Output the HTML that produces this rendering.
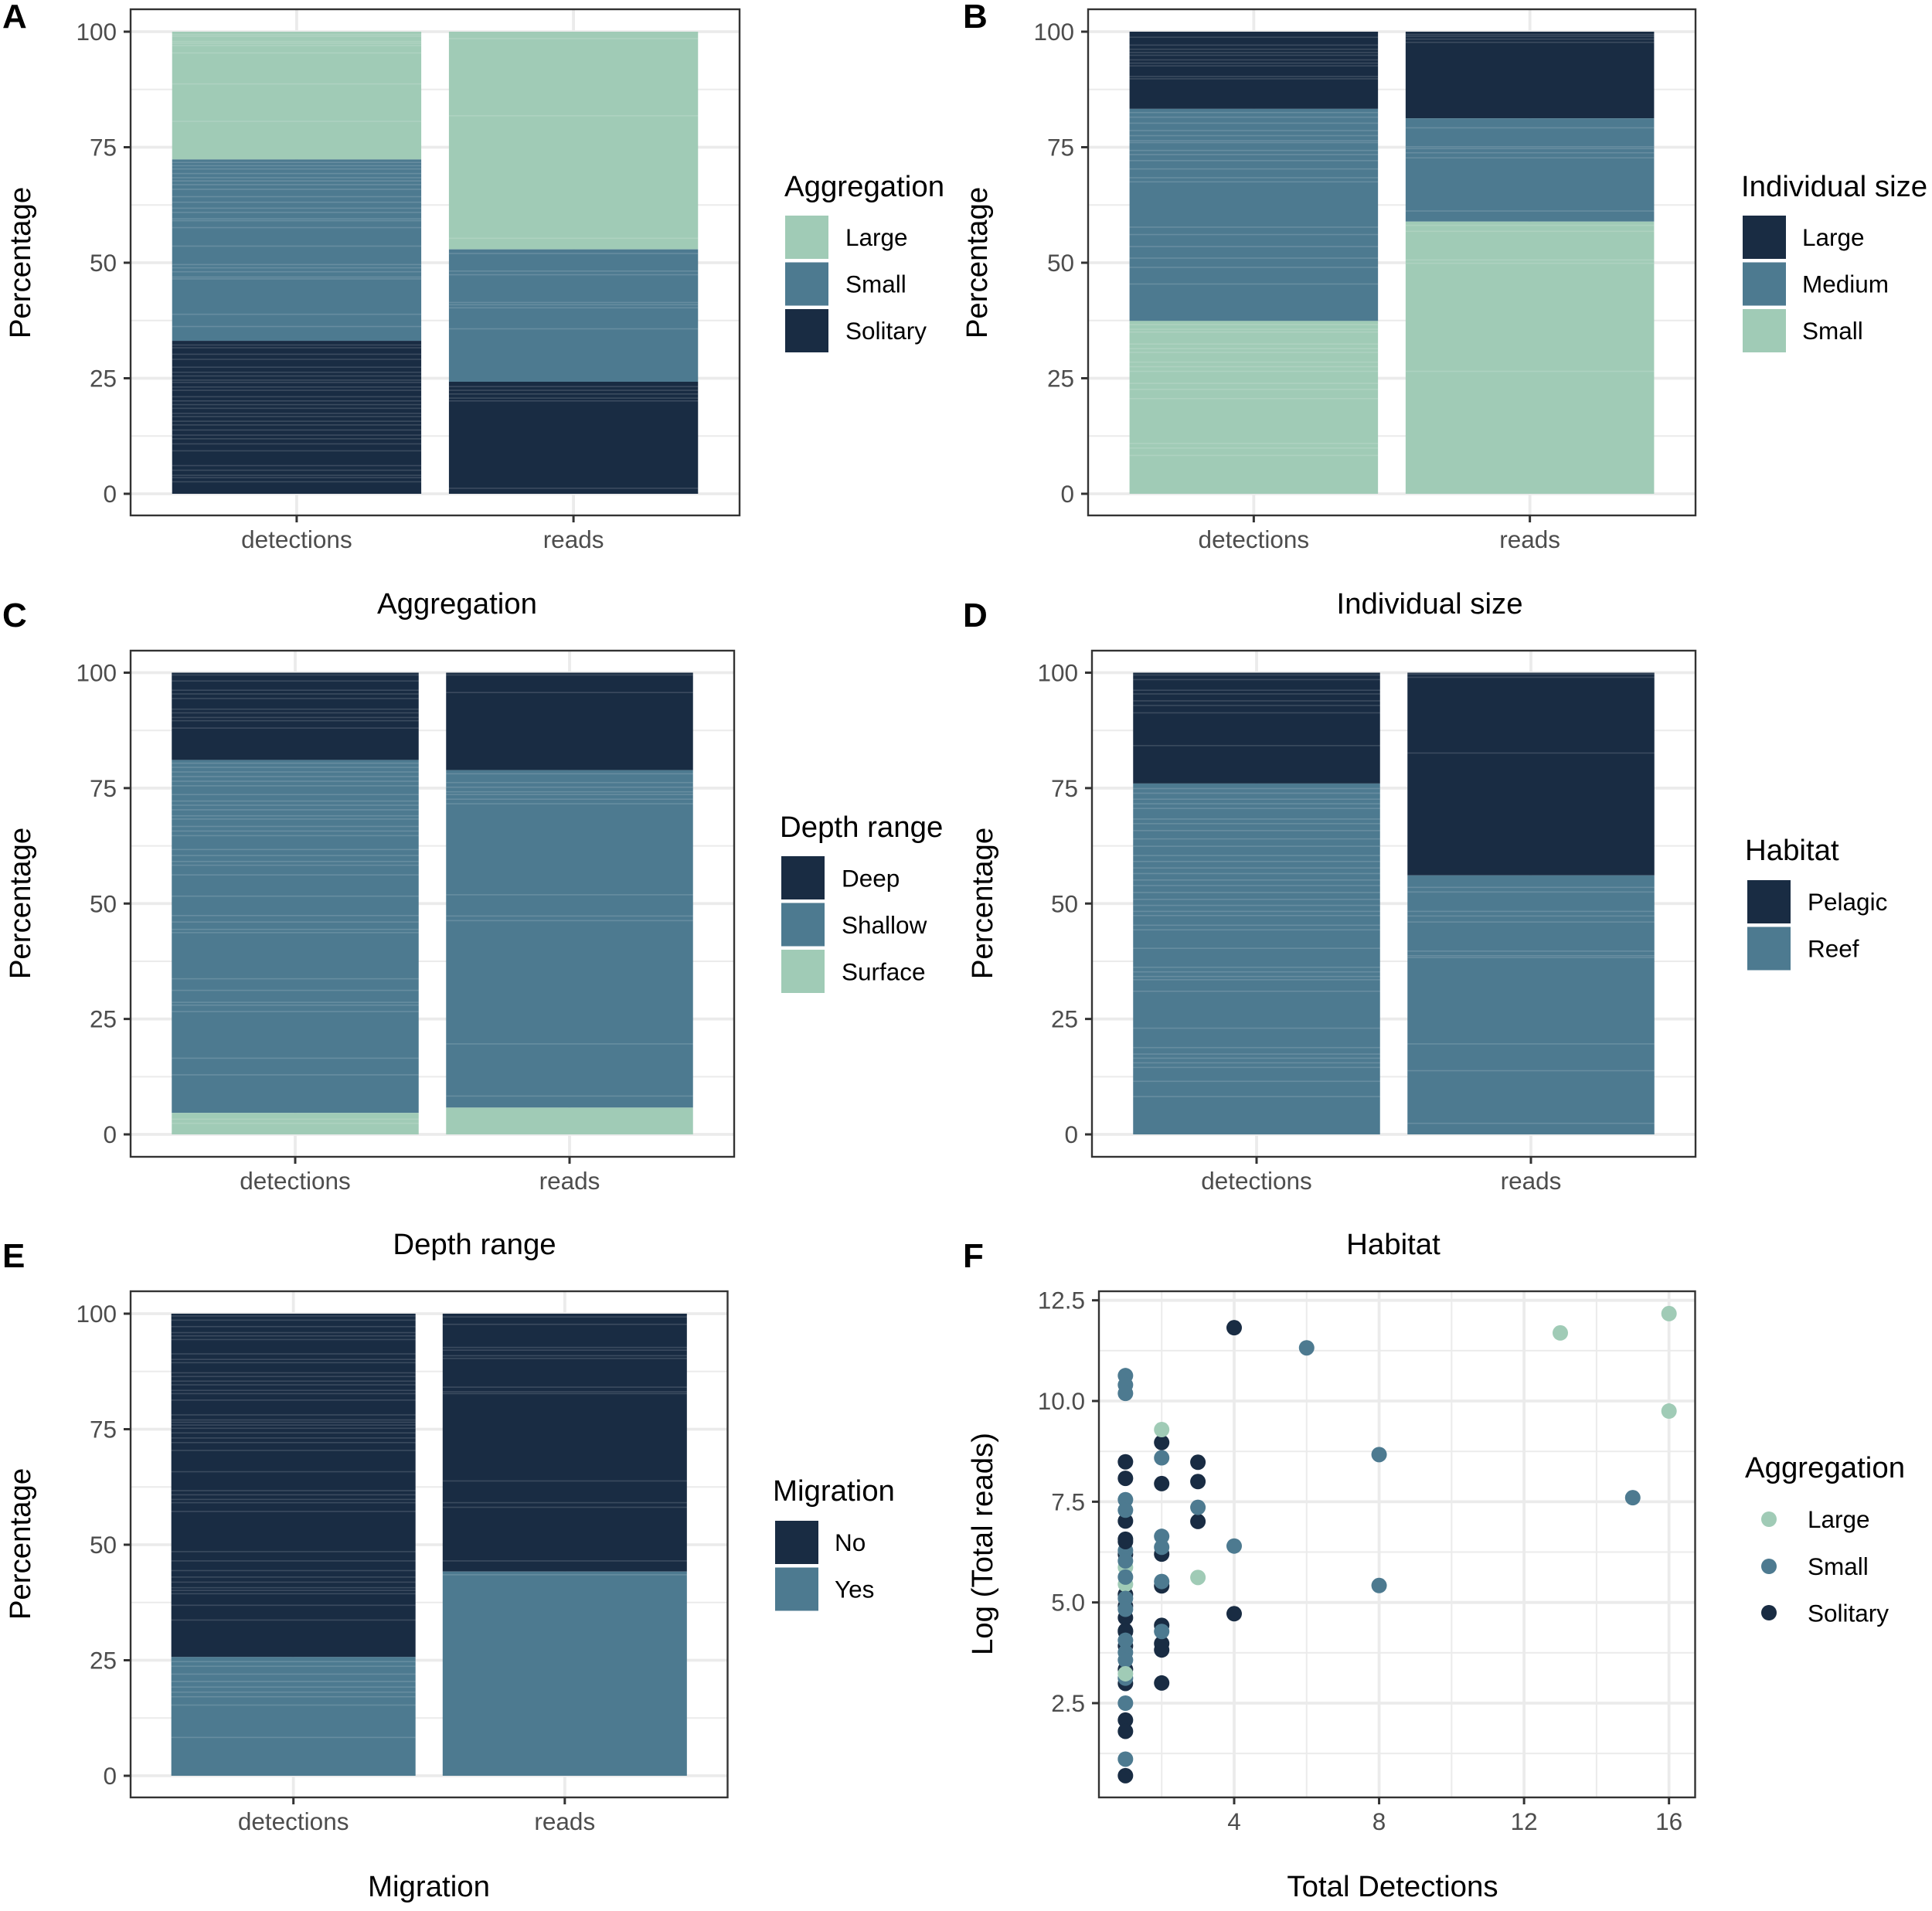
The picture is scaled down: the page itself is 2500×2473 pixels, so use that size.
<!DOCTYPE html>
<html lang="en">
<head>
<meta charset="utf-8">
<title>Aggregation, size, depth, habitat and migration charts</title>
<style>
html,body{margin:0;padding:0;background:#fff;}
svg{display:block;font-family:"Liberation Sans",Arial,sans-serif;}
.ttl{font-size:38.4px;fill:#000;}
.leg{font-size:31.5px;fill:#000;}
.tick{font-size:31.5px;fill:#4d4d4d;}
.let{font-size:44px;font-weight:bold;fill:#000;}
</style>
</head>
<body>
<svg id="figure" xmlns="http://www.w3.org/2000/svg" width="2500" height="2473" viewBox="0 0 2500 2473">
  <rect x="0" y="0" width="2500" height="2473" fill="#fff"/>
  <g id="marks"></g>

  <text class="let" x="3" y="36">A</text>
  <text class="let" x="1246" y="36">B</text>
  <text class="let" x="3" y="811">C</text>
  <text class="let" x="1246" y="811">D</text>
  <text class="let" x="3" y="1640">E</text>
  <text class="let" x="1246" y="1640">F</text>

  <text class="ttl" text-anchor="middle" transform="translate(39 340) rotate(-90)">Percentage</text>
  <text class="ttl" text-anchor="middle" transform="translate(1277 340) rotate(-90)">Percentage</text>
  <text class="ttl" text-anchor="middle" transform="translate(39 1169) rotate(-90)">Percentage</text>
  <text class="ttl" text-anchor="middle" transform="translate(1284 1169) rotate(-90)">Percentage</text>
  <text class="ttl" text-anchor="middle" transform="translate(39 1998) rotate(-90)">Percentage</text>
  <text class="ttl" text-anchor="middle" transform="translate(1284 1998) rotate(-90)">Log (Total reads)</text>

  <text class="ttl" text-anchor="middle" x="591.5" y="794">Aggregation</text>
  <text class="ttl" text-anchor="middle" x="1850" y="794">Individual size</text>
  <text class="ttl" text-anchor="middle" x="614" y="1623">Depth range</text>
  <text class="ttl" text-anchor="middle" x="1803" y="1623">Habitat</text>
  <text class="ttl" text-anchor="middle" x="555" y="2454">Migration</text>
  <text class="ttl" text-anchor="middle" x="1802" y="2454">Total Detections</text>

  <g>
    <text class="ttl" x="1015" y="254">Aggregation</text>
    <rect x="1016" y="279" width="56" height="56" fill="#a0cbb6"/>
    <rect x="1016" y="339.500" width="56" height="56" fill="#4d7a90"/>
    <rect x="1016" y="400" width="56" height="56" fill="#192c43"/>
    <text class="leg" x="1094" y="318">Large</text>
    <text class="leg" x="1094" y="378.500">Small</text>
    <text class="leg" x="1094" y="439">Solitary</text>
  </g>
  <g>
    <text class="ttl" x="2253" y="254">Individual size</text>
    <rect x="2255" y="279" width="56" height="56" fill="#192c43"/>
    <rect x="2255" y="339.500" width="56" height="56" fill="#4d7a90"/>
    <rect x="2255" y="400" width="56" height="56" fill="#a0cbb6"/>
    <text class="leg" x="2332" y="318">Large</text>
    <text class="leg" x="2332" y="378.500">Medium</text>
    <text class="leg" x="2332" y="439">Small</text>
  </g>
  <g>
    <text class="ttl" x="1009" y="1083">Depth range</text>
    <rect x="1011" y="1108" width="56" height="56" fill="#192c43"/>
    <rect x="1011" y="1168.500" width="56" height="56" fill="#4d7a90"/>
    <rect x="1011" y="1229" width="56" height="56" fill="#a0cbb6"/>
    <text class="leg" x="1089" y="1147.500">Deep</text>
    <text class="leg" x="1089" y="1208">Shallow</text>
    <text class="leg" x="1089" y="1268.500">Surface</text>
  </g>
  <g>
    <text class="ttl" x="2258" y="1113">Habitat</text>
    <rect x="2261" y="1139" width="56" height="56" fill="#192c43"/>
    <rect x="2261" y="1199.500" width="56" height="56" fill="#4d7a90"/>
    <text class="leg" x="2339" y="1178">Pelagic</text>
    <text class="leg" x="2339" y="1238.500">Reef</text>
  </g>
  <g>
    <text class="ttl" x="1000" y="1942">Migration</text>
    <rect x="1003" y="1968" width="56" height="56" fill="#192c43"/>
    <rect x="1003" y="2028.500" width="56" height="56" fill="#4d7a90"/>
    <text class="leg" x="1080" y="2007">No</text>
    <text class="leg" x="1080" y="2067.500">Yes</text>
  </g>
  <g>
    <text class="ttl" x="2258" y="1912">Aggregation</text>
    <circle cx="2289" cy="1966" r="10" fill="#a0cbb6"/>
    <circle cx="2289" cy="2027" r="10" fill="#4d7a90"/>
    <circle cx="2289" cy="2087" r="10" fill="#192c43"/>
    <text class="leg" x="2339" y="1977">Large</text>
    <text class="leg" x="2339" y="2038">Small</text>
    <text class="leg" x="2339" y="2098.500">Solitary</text>
  </g>
</svg>

<script>
const barCategories = ['detections', 'reads'];
const percentTicks = [0, 25, 50, 75, 100];
const percentMinorTicks = [12.5, 37.5, 62.5, 87.5];

/* Stack shares, listed from the top of the bar downward */
const aggregationDetectionShares = [27.65, 39.25, 33.1];
const aggregationReadShares = [47.1, 28.65, 24.25];
const sizeDetectionShares = [16.7, 45.9, 37.4];
const sizeReadShares = [18.75, 22.35, 58.9];
const depthDetectionShares = [18.9, 76.44, 4.66];
const depthReadShares = [21.1, 73.1, 5.8];
const habitatDetectionShares = [24, 76];
const habitatReadShares = [43.9, 56.1];
const migrationDetectionShares = [74.3, 25.7];
const migrationReadShares = [55.8, 44.2];

/* Cumulative percent at which each thin species segment boundary sits */
const aggregationDetectionStripes = [99.4,99.0,97.9,97.5,97.0,95.4,88.7,80.6,71.7,71.0,70.3,69.3,68.4,67.7,66.9,65.9,64.3,63.1,61.8,60.9,59.5,59.1,57.6,53.6,49.6,48.9,48.05,46.9,46.5,38.85,36.2,32.2,31.6,30.2,29.1,27.4,26.3,25.5,24.6,24.1,23.1,22.4,21.0,20.1,19.3,18.5,17.4,16.7,15.7,14.9,13.8,12.7,11.9,10.8,9.3,6.1,5.1,4.0,3.5,2.6];
const aggregationReadStripes = [98.5,81.8,55.3,52.0,48.2,47.4,41.4,40.9,40.25,35.7,23.2,22.4,21.6,20.7,20.1,1.2];
const sizeDetectionStripes = [98.8,97.1,96.2,95.5,94.9,93.9,93.2,92.6,90.3,89.8,82.5,81.5,80.2,78.6,77.5,76.4,76.0,74.3,73.4,72.1,70.3,68.4,67.5,57.7,56.1,53.5,51.0,49.0,45.4,36.6,35.6,35.0,32.4,31.4,30.6,28.5,27.5,26.5,23.9,22.6,20.6,10.9,9.9,8.3];
const sizeReadStripes = [99.4,99.0,98.4,97.7,79.2,75.1,74.7,73.8,72.7,61.2,58.1,56.8,50.6,49.9,26.5];
const depthDetectionStripes = [99.5,98.2,96.2,95.4,94.4,92.1,91.3,90.3,89.6,88.0,80.4,79.5,78.5,77.5,76.5,75.5,73.6,72.2,71.3,70.3,69.0,68.3,66.7,65.7,64.7,61.7,60.4,59.1,58.3,56.2,51.6,47.4,46.0,44.4,43.7,33.7,31.2,28.6,28.0,26.6,16.5,12.9,3.3,2.4];
const depthReadStripes = [99.5,95.7,78.1,76.2,75.2,74.2,73.6,72.6,71.6,51.9,47.3,46.3,19.6,8.3];
const habitatDetectionStripes = [99.5,98.5,96.2,95.4,93.9,92.9,91.3,84.2,74.9,73.9,72.6,71.6,70.6,68.3,67.3,65.8,64.0,62.4,60.4,59.1,57.7,56.5,55.1,53.9,52.4,50.9,49.6,48.3,47.4,45.3,44.3,40.3,36.2,35.2,34.2,33.5,31.0,23.0,18.8,17.4,16.5,15.5,14.5,11.5,8.2];
const habitatReadStripes = [99.7,99.0,82.6,53.5,52.5,48.3,47.3,46.0,39.7,38.7,38.3,19.6,13.8,2.4];
const migrationDetectionStripes = [99.5,98.6,97.2,95.9,95.2,94.4,91.3,90.1,89.4,87.2,86.4,85.4,84.6,83.4,82.7,81.3,78.1,77.0,76.5,75.9,75.2,74.2,73.1,72.1,70.4,65.8,61.7,60.8,59.8,59.1,57.2,48.5,46.5,44.4,43.0,41.9,40.7,40.1,39.4,36.9,33.7,24.7,23.7,22.0,20.4,19.2,18.1,17.1,15.3,8.3];
const migrationReadStripes = [99.3,97.7,92.7,92.1,90.9,90.3,84.1,83.1,82.7,63.8,59.1,58.1,46.5,43.5];

/* Panel F scatter, in draw order */
const scatterDetections = [1,1,1,1,1,1,1,1,1,1,1,1,1,1,1, 2,2,2,2,2,2,2,2, 3,3,3, 4,4, 1,1,2,3,13,16,16, 1,1,1,1,1,1,1,1,1,1,1,1,1,1,1,1, 2,2,2,2,2, 3,4,6,8,8,15, 1, 1,1];
const scatterLogReads = [8.49,8.08,7.02,6.19,5.2,4.91,4.62,4.3,4.27,3.92,3.34,2.99,2.08,1.80,0.70, 8.97,7.95,6.2,5.41,4.43,3.98,3.82,3.0, 8.48,8.0,7.01, 11.82,4.72, 5.87,5.45,9.29,5.62,11.69,12.17,9.75, 10.63,10.40,10.19,7.55,7.29,6.29,6.03,5.63,5.10,4.83,4.06,3.76,3.57,3.12,2.5,1.11, 8.59,6.64,6.37,5.52,4.28, 7.36,6.40,11.32,8.67,5.42,7.60, 3.23, 6.57,6.51];
const scatterAggregation = ['Solitary','Solitary','Solitary','Solitary','Solitary','Solitary','Solitary','Solitary','Solitary','Solitary','Solitary','Solitary','Solitary','Solitary','Solitary','Solitary','Solitary','Solitary','Solitary','Solitary','Solitary','Solitary','Solitary','Solitary','Solitary','Solitary','Solitary','Solitary','Large','Large','Large','Large','Large','Large','Large','Small','Small','Small','Small','Small','Small','Small','Small','Small','Small','Small','Small','Small','Small','Small','Small','Small','Small','Small','Small','Small','Small','Small','Small','Small','Small','Small','Large','Solitary','Solitary'];
const scatterXTicks = [4, 8, 12, 16];
const scatterXMinorTicks = [2, 6, 10, 14];
const scatterYTicks = [2.5, 5, 7.5, 10, 12.5];
const scatterYTickLabels = ['2.5', '5.0', '7.5', '10.0', '12.5'];
const scatterYMinorTicks = [1.25, 3.75, 6.25, 8.75, 11.25];

const DARK = '#192c43', MID = '#4d7a90', LIGHT = '#a0cbb6';
const aggregationColors = {Large: LIGHT, Small: MID, Solitary: DARK};
const SVGNS = 'http://www.w3.org/2000/svg';
const root = document.getElementById('marks');

function make(tag, attrs, parent) {
  const node = document.createElementNS(SVGNS, tag);
  for (const key in attrs) node.setAttribute(key, attrs[key]);
  parent.appendChild(node);
  return node;
}

function drawGridLine(parent, horizontal, at, a, b, major) {
  const line = horizontal
    ? make('line', {x1: a, x2: b, y1: at, y2: at, stroke: '#ebebeb', 'stroke-width': major ? 3.8 : 2}, parent)
    : make('line', {x1: at, x2: at, y1: a, y2: b, stroke: '#ebebeb', 'stroke-width': major ? 3.8 : 2}, parent);
  
  
}

function drawTickMark(parent, horizontal, at, edge) {
  const mark = horizontal
    ? make('line', {x1: edge - 9, x2: edge, y1: at, y2: at, stroke: '#333', 'stroke-width': 3}, parent)
    : make('line', {x1: at, x2: at, y1: edge, y2: edge + 9, stroke: '#333', 'stroke-width': 3}, parent);
  
  
}

function drawYLabel(parent, text, y, left) {
  const label = make('text', {class: 'tick', x: left - 18, y: y + 11, 'text-anchor': 'end'}, parent);
  label.textContent = text;
  
  
}

function drawXLabel(parent, text, x, bottom) {
  const label = make('text', {class: 'tick', x: x, y: bottom + 42, 'text-anchor': 'middle'}, parent);
  label.textContent = text;
  
  
}

function drawBorder(parent, l, r, t, b) {
  const border = make('rect', {x: l, y: t, width: r - l, height: b - t, fill: 'none', stroke: '#333', 'stroke-width': 2.4}, parent);
  
  
}

function drawStackPanel(name, box, colors, shares, stripes) {
  const g = make('g', {}, root);
  
  
  const unit = (box.r - box.l) / 2.2;
  const xScale = i => box.l + (0.6 + i) * unit;
  const yScale = v => box.y0 + (box.y100 - box.y0) * v / 100;

  percentMinorTicks.forEach(v => drawGridLine(g, true, yScale(v), box.l, box.r, false));
  percentTicks.forEach(v => drawGridLine(g, true, yScale(v), box.l, box.r, true));
  barCategories.forEach((c, i) => drawGridLine(g, false, xScale(i), box.t, box.b, true));

  barCategories.forEach((category, i) => {
    const x = xScale(i) - 0.45 * unit;
    const w = 0.9 * unit;
    let level = 100;
    shares[i].forEach((share, k) => {
      const rect = make('rect', {x: x, y: yScale(level), width: w, height: yScale(level - share) - yScale(level), fill: colors[k]}, g);
      
      
      level -= share;
    });
    stripes[i].forEach(value => {
      const stripe = make('rect', {x: x, y: yScale(value) - 0.8, width: w, height: 1.6, fill: '#fff', 'fill-opacity': 0.15}, g);
      
      
    });
  });

  drawBorder(g, box.l, box.r, box.t, box.b);
  percentTicks.forEach(v => {
    drawTickMark(g, true, yScale(v), box.l);
    drawYLabel(g, String(v), yScale(v), box.l);
  });
  barCategories.forEach((c, i) => {
    drawTickMark(g, false, xScale(i), box.b);
    drawXLabel(g, c, xScale(i), box.b);
  });
}

drawStackPanel('panel-a-aggregation', {l: 169, r: 957, t: 12, b: 667, y100: 41, y0: 639}, [LIGHT, MID, DARK],
  [aggregationDetectionShares, aggregationReadShares], [aggregationDetectionStripes, aggregationReadStripes]);
drawStackPanel('panel-b-individual-size', {l: 1408, r: 2194, t: 12, b: 667, y100: 41, y0: 639}, [DARK, MID, LIGHT],
  [sizeDetectionShares, sizeReadShares], [sizeDetectionStripes, sizeReadStripes]);
drawStackPanel('panel-c-depth-range', {l: 169, r: 950, t: 842, b: 1497, y100: 870.5, y0: 1468}, [DARK, MID, LIGHT],
  [depthDetectionShares, depthReadShares], [depthDetectionStripes, depthReadStripes]);
drawStackPanel('panel-d-habitat', {l: 1413, r: 2194, t: 842, b: 1497, y100: 870.5, y0: 1468}, [DARK, MID],
  [habitatDetectionShares, habitatReadShares], [habitatDetectionStripes, habitatReadStripes]);
drawStackPanel('panel-e-migration', {l: 169, r: 941.5, t: 1671, b: 2326, y100: 1700, y0: 2298}, [DARK, MID],
  [migrationDetectionShares, migrationReadShares], [migrationDetectionStripes, migrationReadStripes]);

(function drawScatter() {
  const box = {l: 1422, r: 2193.5, t: 1671, b: 2326};
  const g = make('g', {}, root);
  
  
  const xScale = v => 1597 + (v - 4) * 46.89;
  const yScale = v => 2204 - (v - 2.5) * 52.13;

  scatterYMinorTicks.forEach(v => drawGridLine(g, true, yScale(v), box.l, box.r, false));
  scatterXMinorTicks.forEach(v => drawGridLine(g, false, xScale(v), box.t, box.b, false));
  scatterYTicks.forEach(v => drawGridLine(g, true, yScale(v), box.l, box.r, true));
  scatterXTicks.forEach(v => drawGridLine(g, false, xScale(v), box.t, box.b, true));

  scatterDetections.forEach((d, i) => {
    const dot = make('circle', {cx: xScale(d), cy: yScale(scatterLogReads[i]), r: 10, fill: aggregationColors[scatterAggregation[i]]}, g);
    
    
  });

  drawBorder(g, box.l, box.r, box.t, box.b);
  scatterYTicks.forEach((v, i) => {
    drawTickMark(g, true, yScale(v), box.l);
    drawYLabel(g, scatterYTickLabels[i], yScale(v), box.l);
  });
  scatterXTicks.forEach(v => {
    drawTickMark(g, false, xScale(v), box.b);
    drawXLabel(g, String(v), xScale(v), box.b);
  });
})();
</script>
</body>
</html>
